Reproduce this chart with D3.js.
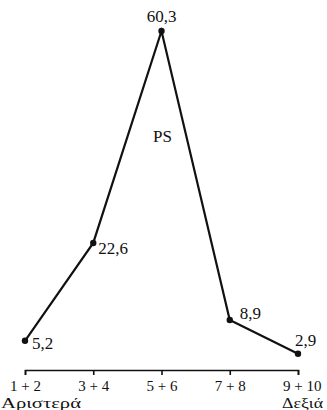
<!DOCTYPE html>
<html>
<head>
<meta charset="utf-8">
<script src="https://cdn.jsdelivr.net/npm/d3@7"></script>
<style>
  body { margin: 0; background: #fff; }
  text { font-family: "Liberation Serif", "DejaVu Serif", serif; fill: #111; }
</style>
</head>
<body>
<div id="chart"></div>
<script>
// values
const categories = ['1+2', '3+4', '5+6', '7+8', '9+10'];
const values = [5.2, 22.6, 60.3, 8.9, 2.9];
const valueLabels = ['5,2', '22,6', '60,3', '8,9', '2,9'];
const seriesName = 'PS';
const endLabels = ['Αριστερά', 'Δεξιά'];

// where each value label sits relative to its point
const labelOffsets = [[7, 8, 'start'], [5, 11, 'start'], [0, -9, 'middle'], [10, -1, 'start'], [-3, -8, 'start']];

const width = 327, height = 410;
const margin = { top: 31, right: 29, bottom: 40, left: 25 };

const svg = d3.select('#chart').append('svg')
    .attr('width', width)
    .attr('height', height);

const x = d3.scalePoint()
    .domain(categories)
    .range([margin.left, width - margin.right]);

const y = d3.scaleLinear()
    .domain([0, d3.max(values)])
    .range([height - margin.bottom, margin.top]);

const pts = categories.map((c, i) => ({ c, v: values[i], label: valueLabels[i], off: labelOffsets[i] }));

// axis
const axisG = svg.append('g')
    .attr('transform', `translate(0, ${y(0)})`)
    .call(d3.axisBottom(x).tickSize(5).tickSizeOuter(5).tickFormat(''));

axisG.select('.domain').attr('stroke', '#111').attr('stroke-width', 1.6);
axisG.selectAll('.tick line').attr('stroke', '#111').attr('stroke-width', 1.6);

// tick labels, with the plus sign set on the tick
axisG.selectAll('.tick').each(function(d) {
    const parts = d.split('+');
    const t = d3.select(this).append('text')
        .attr('y', 21)
        .attr('text-anchor', 'start')
        .style('font-size', '15px')
        .text(parts[0] + ' + ' + parts[1]);
    const node = t.node();
    const pre = node.getSubStringLength(0, parts[0].length + 1);
    const plus = node.getSubStringLength(parts[0].length + 1, 1);
    t.attr('x', -(pre + plus / 2));
});

svg.append('text')
    .attr('x', 1)
    .attr('y', y(0) + 38)
    .attr('text-anchor', 'start')
    .attr('textLength', 80)
    .attr('lengthAdjust', 'spacingAndGlyphs')
    .style('font-size', '15px')
    .text(endLabels[0]);

svg.append('text')
    .attr('x', width - 4)
    .attr('y', y(0) + 38)
    .attr('text-anchor', 'end')
    .attr('textLength', 41)
    .attr('lengthAdjust', 'spacingAndGlyphs')
    .style('font-size', '15px')
    .text(endLabels[1]);

// line
const line = d3.line()
    .x(d => x(d.c))
    .y(d => y(d.v));

svg.append('path')
    .datum(pts)
    .attr('d', line)
    .attr('fill', 'none')
    .attr('stroke', '#111')
    .attr('stroke-width', 2.2);

svg.selectAll('.dot')
    .data(pts)
    .join('circle')
    .attr('class', 'dot')
    .attr('cx', d => x(d.c))
    .attr('cy', d => y(d.v))
    .attr('r', 3.2)
    .attr('fill', '#111');

svg.selectAll('.val')
    .data(pts)
    .join('text')
    .attr('class', 'val')
    .attr('x', d => x(d.c) + d.off[0])
    .attr('y', d => y(d.v) + d.off[1])
    .attr('text-anchor', d => d.off[2])
    .style('font-size', '17px')
    .text(d => d.label);

svg.append('text')
    .attr('x', x(categories[2]) + 1)
    .attr('y', 142)
    .attr('text-anchor', 'middle')
    .style('font-size', '17px')
    .text(seriesName);
</script>
</body>
</html>
